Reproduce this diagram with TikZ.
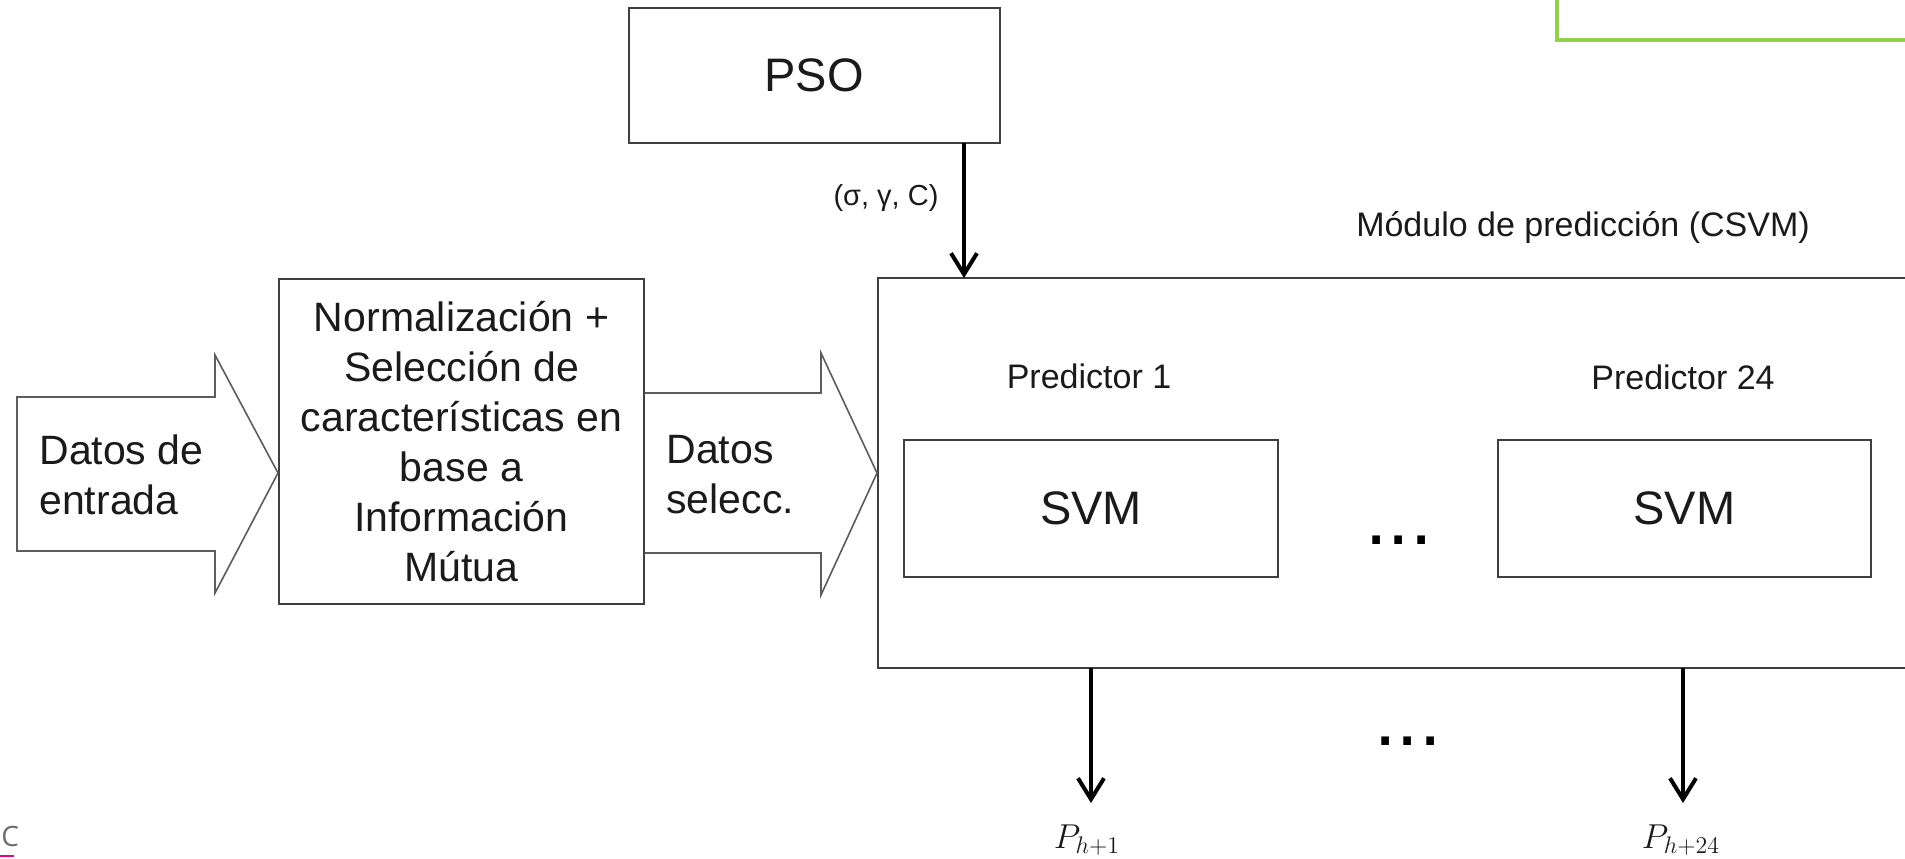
\documentclass[tikz,border=0pt]{standalone}
\usepackage{fontspec}
\setmainfont{Liberation Sans}
\newfontfamily\logofont{Open Sans}
\usetikzlibrary{arrows.meta}

\definecolor{boxline}{HTML}{3F3F3F}
\definecolor{inkcol}{HTML}{1A1A1A}
\definecolor{framegreen}{HTML}{92D050}
\definecolor{logopink}{HTML}{E6007E}
\definecolor{logogray}{HTML}{6E6E6E}

\tikzset{
  blockbox/.style={draw=boxline, line width=1pt, inner sep=0pt, text=inkcol},
  bigarrow/.style={draw=boxline!85, line width=0.8pt, line join=miter},
  flow/.style={line width=1.8pt, draw=black, -{Straight Barb[length=10.5pt,width=13pt,line width=2pt]}},
  lbl/.style={inner sep=0pt, text=inkcol},
  bigtxt/.style={font=\fontsize{23.5}{28}\selectfont},
  midtxt/.style={font=\fontsize{20.5}{25}\selectfont},
  smalltxt/.style={font=\fontsize{17}{20}\selectfont},
  dotstxt/.style={inner sep=0pt, text=black, anchor=base, font=\fontsize{40}{40}\selectfont},
}

\begin{document}
\begin{tikzpicture}[x=0.5pt, y=-0.5pt]
  \useasboundingbox (0,0) rectangle (1905,858);
  \clip (0,0) rectangle (1905,858);

  % corner decorations
  \draw[framegreen, line width=1.75pt] (1557,-20) -- (1557,40) -- (1930,40);
  \draw[logopink, line width=1.2pt] (0,856) -- (14,856);
  \node[inner sep=0pt, anchor=west, text=logogray, font=\logofont\fontsize{14}{16}\selectfont] (logo) at (1,836) {C};

  % optimiser
  \node[blockbox, bigtxt, minimum width=185.5pt, minimum height=67.5pt] (pso) at (814,75.5) {PSO};

  % preprocessing block
  \node[blockbox, midtxt, align=center, minimum width=182.5pt, minimum height=162.5pt] (prep) at (461.5,441.5)
    {Normalización +\\Selección de\\características en\\base a\\Información\\Mútua};

  % prediction module (runs past the right edge)
  \node[blockbox, minimum width=526pt, minimum height=195pt] (csvm) at (1404,473) {};
  \node[lbl, smalltxt] (modlbl) at (1583,227) {Módulo de predicción (CSVM)};

  % predictors
  \node[lbl, smalltxt] (pred1) at (1089,376) {Predictor 1};
  \node[lbl, smalltxt] (pred24) at (1683,377) {Predictor 24};
  \node[blockbox, bigtxt, minimum width=187pt, minimum height=68.5pt] (svm1) at (1091,508.5) {SVM};
  \node[blockbox, bigtxt, minimum width=186.5pt, minimum height=68.5pt] (svm2) at (1684.5,508.5) {SVM};
  \node[dotstxt] (dotsA) at (1399,544) {...};
  \node[dotstxt] (dotsB) at (1408,745) {...};

  % input block arrows
  \coordinate (inA) at (17,397);
  \draw[bigarrow] (inA) -- (215,397) -- (215,355) -- (prep.west |- 0,473) -- (215,593) -- (215,551) -- (17,551) -- cycle;
  \node[lbl, midtxt, align=left, anchor=west] (intxt) at (39,475) {Datos de\\entrada};

  \draw[bigarrow] (prep.east |- 0,393) -- (821,393) -- (821,353) -- (csvm.west |- 0,473) -- (821,595) -- (821,553) -- (prep.east |- 0,553);
  \node[lbl, midtxt, align=left, anchor=west] (seltxt) at (666,475) {Datos\\selecc.};

  % parameters from the optimiser
  \coordinate (psoOut) at (964,143);
  \coordinate (csvmIn) at (964,278);
  \draw[flow] (psoOut) -- (csvmIn);
  \node[lbl, font=\fontsize{14.5}{17}\selectfont] (params) at (886,198) {(σ, γ, C)};

  % outputs
  \coordinate (outA) at (1091,668);
  \coordinate (tipA) at (1091,803);
  \coordinate (outB) at (1683,668);
  \coordinate (tipB) at (1683,803);
  \draw[flow] (outA) -- (tipA);
  \draw[flow] (outB) -- (tipB);
  \node[lbl, font=\fontsize{17}{19}\selectfont] (p1) at (1087,840) {$P_{h+1}$};
  \node[lbl, font=\fontsize{17}{19}\selectfont] (p24) at (1681,840) {$P_{h+24}$};
\end{tikzpicture}
\end{document}
